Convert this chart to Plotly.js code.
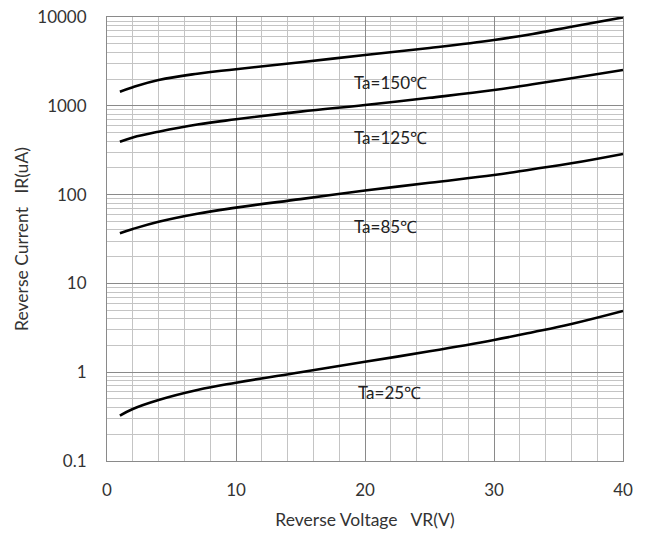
<!DOCTYPE html>
<html>
<head>
<meta charset="utf-8">
<script src="https://cdn.plot.ly/plotly-3.0.1.min.js"></script>
<style>html,body{margin:0;padding:0;background:#fff;}#chart{width:650px;height:534px;}</style>
</head>
<body>
<div id="chart"></div>
<script>
const voltage = [1, 2, 4, 7, 10, 15, 20, 25, 30, 33, 36, 40];
const ir150 = [1442, 1620, 1950, 2300, 2580, 3100, 3730, 4480, 5510, 6450, 7780, 9900];
const ir125 = [394, 440, 511, 615, 705, 860, 1020, 1230, 1506, 1750, 2040, 2530];
const ir85 = [36.7, 41.0, 49.5, 61, 71.3, 89, 111, 136, 166, 193, 225, 287];
const ir25 = [0.324, 0.385, 0.486, 0.63, 0.762, 1.0, 1.31, 1.72, 2.31, 2.82, 3.49, 4.89];
const seriesNames = ["Ta=150℃", "Ta=125℃", "Ta=85℃", "Ta=25℃"];
const labelX = [22.0, 22.0, 21.6, 21.9];
const labelY = [1853, 434, 44.3, 0.598];
const yTickVals = [0.1, 1, 10, 100, 1000, 10000];
const yTickText = ["0.1", "1", "10", "100", "1000", "10000"];
const xTickVals = [0, 10, 20, 30, 40];

const series = [ir150, ir125, ir85, ir25];
const traces = series.map((ys, i) => ({
  x: voltage, y: ys, type: 'scatter', mode: 'lines', name: seriesNames[i],
  line: {color: '#000', width: 2.6, shape: 'spline', smoothing: 1.2},
  showlegend: false, hoverinfo: 'skip'
}));

const font = 'Lato, "Open Sans", sans-serif';
const annotations = seriesNames.map((t, i) => ({
  x: labelX[i], y: Math.log10(labelY[i]), xref: 'x', yref: 'y', text: t,
  showarrow: false, font: {family: font, size: 17, color: '#222'}
}));

const layout = {
  width: 650, height: 534,
  margin: {l: 107, r: 27, t: 17, b: 73},
  paper_bgcolor: '#fff', plot_bgcolor: '#fff',
  font: {family: font, color: '#333'},
  xaxis: {
    range: [0, 40], tickvals: xTickVals, ticks: '',
    showgrid: true, gridcolor: '#8a8a8a', gridwidth: 1,
    minor: {dtick: 2, showgrid: true, gridcolor: '#c4c4c4', gridwidth: 1},
    showline: true, linecolor: '#8a8a8a', linewidth: 1, mirror: true,
    zeroline: false,
    ticklabelstandoff: 14,
    tickfont: {family: font, size: 17, color: '#333'},
    title: {text: 'Reverse Voltage   VR(V)', font: {family: font, size: 17.5, color: '#333'}, standoff: 14}
  },
  yaxis: {
    type: 'log', range: [-1, 4], tickmode: 'array', tickvals: yTickVals, ticktext: yTickText, ticks: '',
    showgrid: true, gridcolor: '#8a8a8a', gridwidth: 1,
    minor: {dtick: 'D1', showgrid: true, gridcolor: '#c4c4c4', gridwidth: 1},
    showline: true, linecolor: '#8a8a8a', linewidth: 1, mirror: true,
    zeroline: false,
    tickfont: {family: font, size: 17, color: '#333'},
    ticklabelstandoff: 16,
    title: {text: 'Reverse Current   IR(uA)', font: {family: font, size: 17.5, color: '#333'}, standoff: 4}
  },
  annotations: annotations
};

Plotly.newPlot('chart', traces, layout, {staticPlot: true, displayModeBar: false});
</script>
</body>
</html>
